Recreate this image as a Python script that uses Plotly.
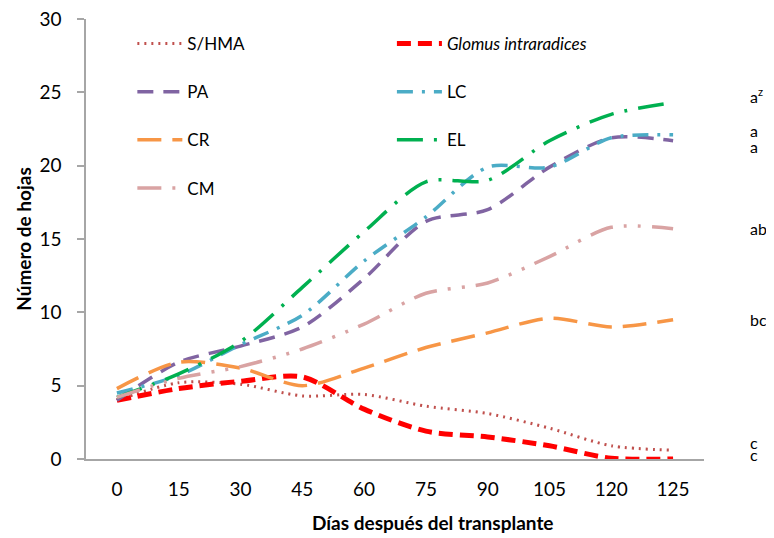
import plotly.graph_objects as go

days = ["0", "15", "30", "45", "60", "75", "90", "105", "120", "125"]

s_hma = [4.0, 5.2, 5.1, 4.3, 4.4, 3.6, 3.1, 2.1, 0.9, 0.6]
glomus = [4.0, 4.8, 5.3, 5.6, 3.4, 1.9, 1.5, 0.9, 0.05, 0.0]
pa = [4.0, 6.6, 7.7, 9.0, 12.3, 16.2, 17.0, 19.9, 21.9, 21.7]
lc = [4.5, 5.7, 7.8, 9.8, 13.5, 16.5, 19.9, 19.9, 21.9, 22.1]
cr = [4.8, 6.6, 6.2, 5.0, 6.2, 7.6, 8.6, 9.6, 9.0, 9.5]
el = [4.2, 5.8, 8.0, 11.7, 15.5, 18.9, 19.0, 21.7, 23.5, 24.3]
cm = [4.2, 5.5, 6.3, 7.5, 9.2, 11.3, 12.0, 13.8, 15.8, 15.7]

series_names = ["S/HMA", "<i>Glomus intraradices</i>", "PA", "LC", "CR", "EL", "CM"]
letters = ["c", "c", "a", "a", "bc", "a<sup>z</sup>", "ab"]

FONT = "Lato, 'Open Sans', sans-serif"

styles = [
    dict(color="#C0504D", width=3, dash="2px,5px"),
    dict(color="#FF0000", width=5, dash="14px,7px"),
    dict(color="#8064A2", width=3.5, dash="16px,10px"),
    dict(color="#4BACC6", width=3.5, dash="16px,9px,3px,9px"),
    dict(color="#F79646", width=3.5, dash="24px,11px"),
    dict(color="#00B050", width=3.5, dash="26px,11px,3px,11px"),
    dict(color="#D9A3A3", width=3.5, dash="24px,11px,3px,11px,3px,11px"),
]
legend_ids = ["legend", "legend2", "legend", "legend2", "legend", "legend2", "legend"]
label_shift = [8, 5, -6, 4, 0, 7, 0]

data = [s_hma, glomus, pa, lc, cr, el, cm]

fig = go.Figure()
for i, (name, vals) in enumerate(zip(series_names, data)):
    fig.add_trace(go.Scatter(
        x=days, y=vals, name=name, mode="lines",
        line=dict(shape="spline", smoothing=0.8, **styles[i]),
        legend=legend_ids[i], legendgroup=f"g{i}",
    ))
    fig.add_annotation(
        x=1.072, xref="paper", y=vals[-1], yref="y", text=letters[i],
        showarrow=False, xanchor="left", yanchor="middle", yshift=label_shift[i],
        font=dict(family=FONT, size=16, color="#000000"),
    )

fig.add_annotation(
    x=0.561, xref="paper", y=-0.145, yref="paper",
    text="<b>Días después del transplante</b>", showarrow=False,
    xanchor="center", yanchor="middle",
    font=dict(family=FONT, size=19, color="#000000"),
)

legend_common = dict(
    bgcolor="rgba(0,0,0,0)", font=dict(family=FONT, size=17, color="#000000"),
    tracegroupgap=23, yanchor="top", xanchor="left", itemwidth=45,
)

fig.update_layout(
    width=766, height=530,
    margin=dict(l=78, r=70, t=11, b=79, autoexpand=False),
    paper_bgcolor="white", plot_bgcolor="white",
    font=dict(family=FONT, color="#000000"),
    legend=dict(x=0.075, y=0.984, **legend_common),
    legend2=dict(x=0.495, y=0.984, **legend_common),
    xaxis=dict(
        type="category", range=[-0.5, 9.5], showgrid=False, zeroline=False,
        showline=True, linecolor="#A6A6A6", linewidth=1.5, ticks="",
        tickfont=dict(family=FONT, size=19), ticklabelstandoff=12,
        automargin=False,
    ),
    yaxis=dict(
        range=[0, 30], dtick=5, showgrid=False, zeroline=False,
        showline=True, linecolor="#A6A6A6", linewidth=1.5,
        ticks="outside", ticklen=7, tickcolor="#A6A6A6", tickwidth=1.5,
        tickfont=dict(family=FONT, size=19), ticklabelstandoff=12,
        ticklabeloverflow="allow",
        title=dict(text="<b>Número de hojas</b>", font=dict(family=FONT, size=19), standoff=3),
        automargin=False,
    ),
)

fig.write_html("out.html")
